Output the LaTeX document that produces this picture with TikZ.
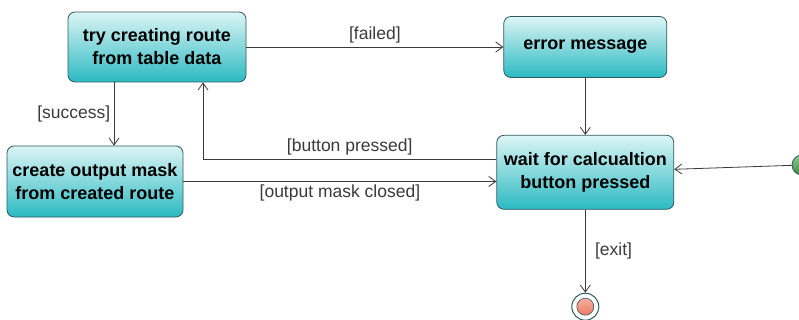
\documentclass[tikz,border=0pt]{standalone}
\usepackage{fontspec}
\setmainfont{Liberation Sans}
\usetikzlibrary{positioning,arrows.meta}
\definecolor{Teal}{HTML}{2BBAC2}
\definecolor{Mint}{HTML}{DDF5F5}
\definecolor{Edge}{HTML}{2F5A60}
\definecolor{Wire}{HTML}{3A3A3A}
\definecolor{Go}{HTML}{4CAA50}
\definecolor{Halt}{HTML}{F07A62}

\begin{document}
\begin{tikzpicture}[x=1pt,y=-1pt, every node/.style={font=\fontsize{17.5}{21}\selectfont}]
\tikzstyle{state}=[draw=Edge,line width=.8pt,top color=Mint,bottom color=Teal,rounded corners=2.5mm,inner sep=0pt,align=center,font=\fontsize{18}{23}\selectfont\bfseries]
\tikzstyle{flow}=[-{Straight Barb[length=7pt,width=10pt]},Wire,line width=.8pt]
\clip (0,0) rectangle (799,320);
\node[state,minimum width=178pt,minimum height=70pt] (try) at (157,47) {try creating route\\from table data};
\node[state,minimum width=163pt,minimum height=61pt,right=257pt of try] (err) {error message};
\node[state,minimum width=177pt,minimum height=74pt,below=57pt of err] (wait) {wait for calcualtion\\button pressed};
\node[state,minimum width=176pt,minimum height=71pt] (mask) at (95,181.5) {create output mask\\from created route};
\node[circle,draw=Edge,line width=.8pt,top color=Go!60!white,bottom color=Go!80!black,minimum size=20pt,inner sep=0pt] (start) at (802,165) {};
\node[circle,draw=Edge,line width=1pt,fill=white,minimum size=27pt,inner sep=0pt,below=83pt of wait] (stop) {};
\node[circle,draw=Edge,line width=.6pt,top color=Halt!60!white,bottom color=Halt,minimum size=17pt,inner sep=0pt] (stopdot) at (stop) {};
\draw[flow] (try.east) -- node[above=0pt] {[failed]} (try.east -| err.west);
\draw[flow] (err) -- (wait);
\draw[flow] ([xshift=-43pt]try.south) -- node[left] {[success]} ([xshift=-43pt]try.south |- mask.north);
\draw[flow] ([yshift=13pt]wait.west) -| node[pos=.25,above] {[button pressed]} ([xshift=46pt]try.south);
\draw[flow] (mask.east) -- node[below] {[output mask closed]} (mask.east -| wait.west);
\draw[flow] (start) -- (wait);
\draw[flow] (wait) -- node[right=6pt] {[exit]} (stop);
\end{tikzpicture}
\end{document}
